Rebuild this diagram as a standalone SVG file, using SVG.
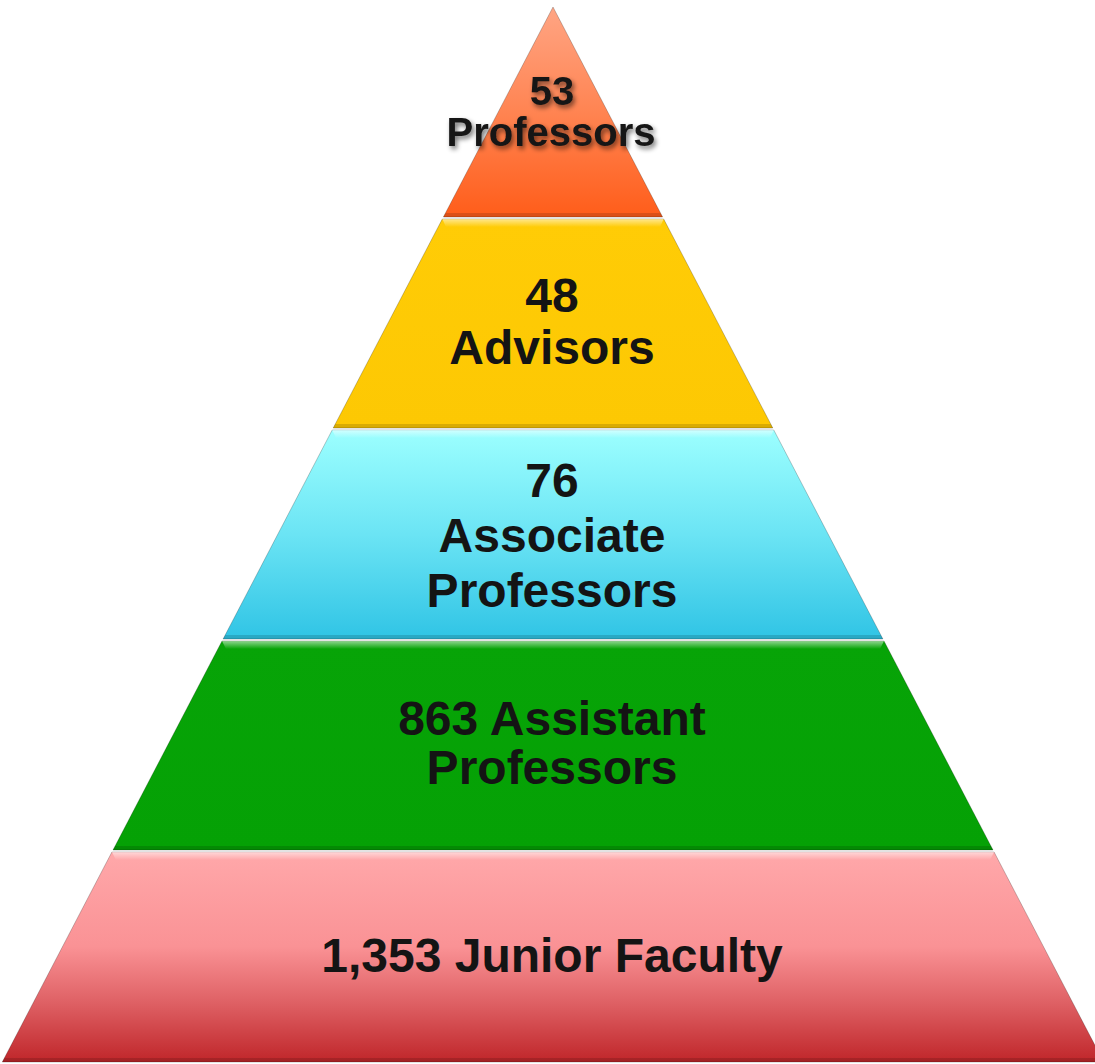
<svg xmlns="http://www.w3.org/2000/svg" width="1095" height="1064" viewBox="0 0 1095 1064">
  <style>
    .lbl { font-family: "Liberation Sans", Arial, sans-serif; font-weight: bold; fill: #141414; text-anchor: middle; }
    .big { font-size: 48px; }
    .edge { stroke: #000; stroke-opacity: 0.22; stroke-width: 1; }
    .lo { fill: #000; fill-opacity: 0.14; }
  </style>
  <defs>
    <linearGradient id="gTop" x1="0" y1="0" x2="0" y2="1">
      <stop offset="0" stop-color="#FFA584"/>
      <stop offset="0.5" stop-color="#FF8452"/>
      <stop offset="1" stop-color="#FF5D1A"/>
    </linearGradient>
    <linearGradient id="gYel" x1="0" y1="0" x2="0" y2="1">
      <stop offset="0" stop-color="#FFCC06"/>
      <stop offset="1" stop-color="#FDC803"/>
    </linearGradient>
    <linearGradient id="gCyan" x1="0" y1="0" x2="0" y2="1">
      <stop offset="0" stop-color="#9CFFFF"/>
      <stop offset="0.5" stop-color="#6BE4F4"/>
      <stop offset="1" stop-color="#30C4E5"/>
    </linearGradient>
    <linearGradient id="gGreen" x1="0" y1="0" x2="0" y2="1">
      <stop offset="0" stop-color="#07A407"/>
      <stop offset="1" stop-color="#05A105"/>
    </linearGradient>
    <linearGradient id="gRed" x1="0" y1="0" x2="0" y2="1">
      <stop offset="0" stop-color="#FFA8AA"/>
      <stop offset="0.45" stop-color="#FA9295"/>
      <stop offset="0.72" stop-color="#DE6064"/>
      <stop offset="1" stop-color="#C0262A"/>
    </linearGradient>
    <linearGradient id="gHi" x1="0" y1="0" x2="0" y2="1">
      <stop offset="0" stop-color="#fff" stop-opacity="0.55"/>
      <stop offset="1" stop-color="#fff" stop-opacity="0"/>
    </linearGradient>
    <filter id="shadow" x="-10%" y="-20%" width="130%" height="150%">
      <feGaussianBlur in="SourceAlpha" stdDeviation="2.5"/>
      <feOffset dx="2" dy="3" result="b"/>
      <feComponentTransfer><feFuncA type="linear" slope="0.55"/></feComponentTransfer>
      <feMerge><feMergeNode/><feMergeNode in="SourceGraphic"/></feMerge>
    </filter>
  </defs>
  <rect width="1095" height="1064" fill="#ffffff"/>

  <g id="tier-professors">
    <polygon points="553,7 662.6,217 443.4,217" fill="url(#gTop)" class="edge"/>
    <polygon points="443.4,217 662.6,217 660.5,213 445.5,213" class="lo"/>
    <g filter="url(#shadow)">
      <text class="lbl" x="552" y="105" font-size="40">53</text>
      <text class="lbl" x="551" y="146" font-size="40">Professors</text>
    </g>
  </g>

  <g id="tier-advisors">
    <polygon points="442.3,219 663.7,219 772.8,428 333.2,428" fill="url(#gYel)" class="edge"/>
    <polygon points="442.3,219 663.7,219 660,227 446,227" fill="url(#gHi)"/>
    <polygon points="333.2,428 772.8,428 770.7,424 335.3,424" class="lo"/>
    <text class="lbl big" x="552" y="312">48</text>
    <text class="lbl big" x="552" y="364">Advisors</text>
  </g>

  <g id="tier-associate">
    <polygon points="332.2,430 773.8,430 882.9,639 223.1,639" fill="url(#gCyan)" class="edge"/>
    <polygon points="332.2,430 773.8,430 770,438 336,438" fill="url(#gHi)"/>
    <polygon points="223.1,639 882.9,639 880.8,635 225.2,635" class="lo"/>
    <text class="lbl big" x="552" y="497">76</text>
    <text class="lbl big" x="552" y="552">Associate</text>
    <text class="lbl big" x="552" y="607">Professors</text>
  </g>

  <g id="tier-assistant">
    <polygon points="222,641 884,641 993,850 113,850" fill="url(#gGreen)" class="edge"/>
    <polygon points="222,641 884,641 880,649 226,649" fill="url(#gHi)"/>
    <polygon points="113,850 993,850 990.9,846 115.1,846" class="lo"/>
    <text class="lbl big" x="552" y="735">863 Assistant</text>
    <text class="lbl big" x="552" y="784">Professors</text>
  </g>

  <g id="tier-junior">
    <polygon points="111.9,852 994.1,852 1103.7,1062 2.3,1062" fill="url(#gRed)" class="edge"/>
    <polygon points="111.9,852 994.1,852 990,860 116,860" fill="url(#gHi)"/>
    <polygon points="2.3,1062 1103.7,1062 1101.6,1058 4.4,1058" class="lo"/>
    <text class="lbl big" x="552" y="972">1,353 Junior Faculty</text>
  </g>

  <g id="connectors"/>
</svg>
